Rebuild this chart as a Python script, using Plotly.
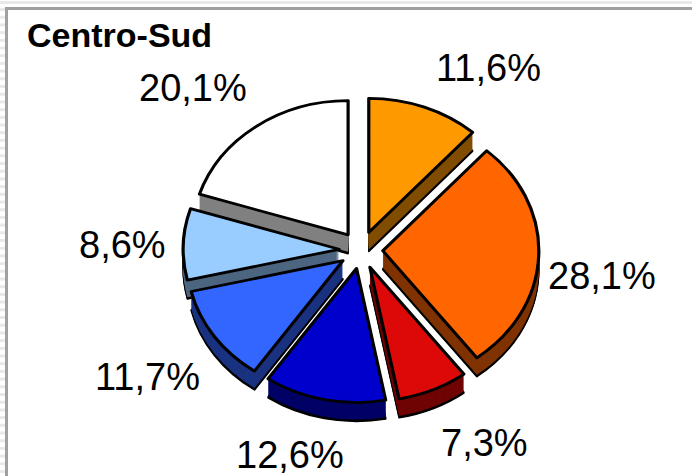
import plotly.graph_objects as go

W, H = 692, 476
title = "Centro-Sud"
categories = ["A", "B", "C", "D", "E", "F", "G"]
values = [11.6, 28.1, 7.3, 12.6, 11.7, 8.6, 20.1]
face_colors = ["#FF9900", "#FF6600", "#DD0808", "#0000CC", "#3366FF", "#99CCFF", "#FFFFFF"]
side_colors = ["#804C00", "#803300", "#700404", "#000066", "#1A3380", "#4D6680", "#808080"]
edge_colors = ["#010101"] * len(values)
label_x = [488, 602, 484, 290, 147, 122, 193]
label_y = [68, 276, 443, 455, 377, 245, 88]

cx, cy, r = 361, 250, 156
squash = 0.86
depth = 19
pull = 0.14


def dom(cy_):
    # plotly shrinks the radius by (1 + max pull) inside the domain
    R = r * (1 + pull)
    y_mid = cy + (cy_ - cy) / squash
    return dict(x=[(cx - R) / W, (cx + R) / W], y=[1 - (y_mid + R) / H, 1 - (y_mid - R) / H])


fig = go.Figure()
for k in range(depth, -1, -1):
    if k == 0:
        colors, lw = face_colors, 3.2
    elif k >= depth - 1:
        colors, lw = edge_colors, 1.5
    else:
        colors, lw = side_colors, 0
    fig.add_trace(go.Pie(
        labels=categories, values=values, sort=False, direction="clockwise", rotation=0,
        pull=[pull] * len(values), domain=dom(cy + k), textinfo="none",
        hoverinfo="label+percent", showlegend=False,
        marker=dict(colors=colors, line=dict(color="#010101", width=lw)),
    ))

annotations = [dict(text=f"<b>{title}</b>", x=25 / W, y=1 - 35 / H, xref="paper", yref="paper",
                    xanchor="left", yanchor="middle", showarrow=False,
                    font=dict(family="Liberation Sans", size=34, color="#000"))]
for v, lx, ly in zip(values, label_x, label_y):
    annotations.append(dict(text=f"{v:.1f}%".replace(".", ","), x=lx / W, y=1 - ly / H,
                            xref="paper", yref="paper", xanchor="center", yanchor="middle",
                            showarrow=False,
                            font=dict(family="Liberation Sans", size=38, color="#000")))

shapes = [dict(type="rect", xref="paper", yref="paper", x0=6.5 / W, x1=1.02, y0=-0.02,
               y1=1 - 8.5 / H, line=dict(color="#A0A0A0", width=3), fillcolor="rgba(0,0,0,0)")]
pale = "#E9E9E9"
shapes.append(dict(type="rect", xref="paper", yref="paper", x0=0, x1=1, y0=1 - 4 / H, y1=1 - 1 / H,
                   line=dict(width=0), fillcolor=pale, layer="below"))
y = 8.0
while y < H:
    shapes.append(dict(type="rect", xref="paper", yref="paper", x0=0, x1=5 / W,
                       y0=1 - (y + 3) / H, y1=1 - y / H,
                       line=dict(width=0), fillcolor=pale, layer="below"))
    y += 7.7

fig.update_layout(
    width=W, height=H, margin=dict(l=0, r=0, t=0, b=0),
    paper_bgcolor="#FFFFFF", plot_bgcolor="#FFFFFF", annotations=annotations, shapes=shapes,
)
post = f"""
document.body.style.margin = '0';
document.documentElement.style.overflow = 'hidden';
document.querySelectorAll('.pielayer').forEach(function (g) {{
  g.setAttribute('transform', 'translate(0 {cy}) scale(1 {squash}) translate(0 {-cy})');
}});
"""
fig.write_html("out.html", post_script=post, config={"displayModeBar": False})
